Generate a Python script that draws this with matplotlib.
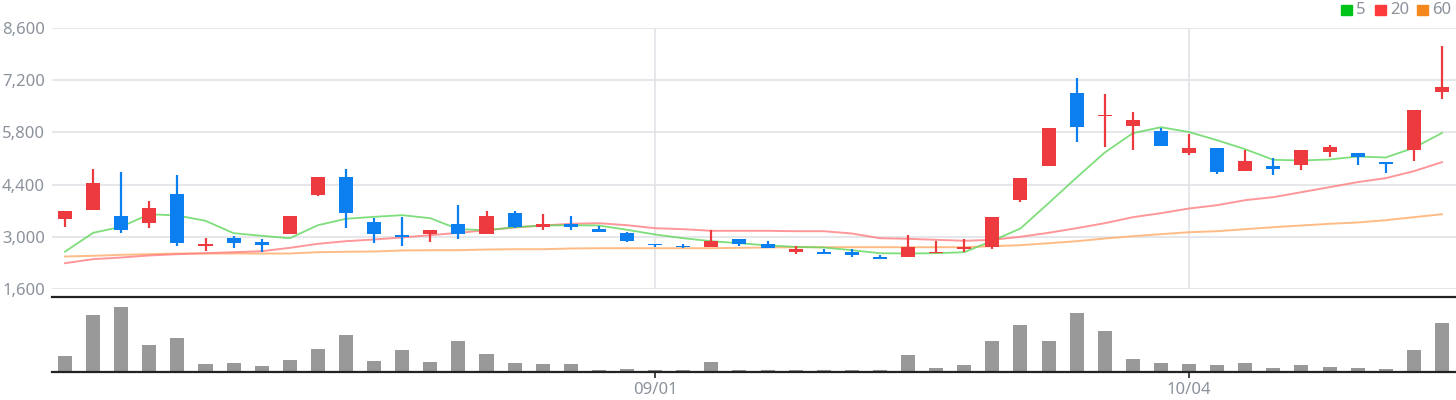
import numpy as np
import matplotlib.pyplot as plt
from matplotlib.patches import Rectangle

plt.rcParams['font.family'] = ['Noto Sans', 'DejaVu Sans']

# daily candles (price)
opens  = [3470, 3715, 3570, 3365, 4160, 2760, 2955, 2865, 3070, 4115,
          4615, 3410, 3060, 3070, 3355, 3070, 3650, 3275, 3330, 3220,
          3090, 2820, 2765, 2720, 2930, 2820, 2590, 2605, 2580, 2470,
          2455, 2555, 2660, 2715, 3975, 4910, 6870, 6235, 5985, 5850,
          5235, 5370, 4760, 4910, 4920, 5270, 5235, 4995, 5320, 6880]
closes = [3705, 4430, 3180, 3785, 2830, 2790, 2830, 2775, 3545, 4615,
          3635, 3070, 2990, 3195, 3070, 3545, 3275, 3355, 3250, 3125,
          2880, 2775, 2715, 2900, 2800, 2695, 2660, 2550, 2500, 2400,
          2715, 2605, 2715, 3520, 4565, 5930, 5940, 6280, 6145, 5430,
          5370, 4735, 5020, 4815, 5340, 5420, 5135, 4950, 6410, 7005]
highs  = [3705, 4805, 4750, 3950, 4645, 2980, 3010, 2930, 3570, 4615,
          4805, 3510, 3520, 3195, 3840, 3680, 3680, 3600, 3570, 3300,
          3125, 2820, 2820, 3170, 2930, 2875, 2765, 2660, 2660, 2525,
          3035, 2875, 2930, 3520, 4565, 5930, 7270, 6840, 6360, 5905,
          5745, 5370, 5315, 5125, 5340, 5475, 5260, 4995, 6410, 8105]
lows   = [3250, 3715, 3110, 3225, 2740, 2615, 2695, 2590, 3070, 4090,
          3230, 2830, 2750, 2855, 2930, 3070, 3240, 3175, 3175, 3125,
          2855, 2720, 2695, 2720, 2765, 2695, 2550, 2550, 2470, 2400,
          2455, 2555, 2605, 2685, 3945, 4910, 5530, 5420, 5340, 5430,
          5190, 4680, 4760, 4655, 4785, 5135, 4920, 4705, 5030, 6690]

ma5  = [2600, 3107, 3268, 3606, 3571, 3429, 3097, 3027, 2962, 3311,
        3483, 3536, 3580, 3499, 3204, 3177, 3257, 3303, 3311, 3303,
        3188, 3062, 2962, 2882, 2828, 2770, 2730, 2713, 2641, 2560,
        2552, 2560, 2587, 2893, 3223, 3901, 4590, 5261, 5779, 5939,
        5810, 5590, 5349, 5065, 5047, 5074, 5154, 5127, 5387, 5784]
ma20 = [2292, 2400, 2445, 2499, 2534, 2560, 2587, 2614, 2704, 2812,
        2882, 2928, 2981, 3043, 3107, 3177, 3249, 3303, 3349, 3365,
        3311, 3231, 3204, 3161, 3161, 3161, 3150, 3150, 3089, 2962,
        2946, 2919, 2893, 2919, 3000, 3107, 3231, 3365, 3526, 3633,
        3759, 3848, 3983, 4063, 4197, 4331, 4466, 4573, 4760, 5002]
ma60 = [2472, 2490, 2517, 2534, 2552, 2552, 2552, 2552, 2552, 2587,
        2598, 2606, 2633, 2641, 2641, 2659, 2667, 2667, 2686, 2694,
        2694, 2694, 2694, 2694, 2704, 2713, 2721, 2721, 2721, 2721,
        2721, 2721, 2721, 2748, 2775, 2828, 2882, 2954, 3016, 3070,
        3123, 3150, 3204, 3258, 3303, 3349, 3384, 3445, 3526, 3606]

volume = [48, 171, 195, 81, 102, 24, 27, 18, 36, 69,
          111, 33, 66, 30, 93, 54, 27, 24, 24, 7,
          9, 7, 7, 30, 5, 5, 5, 5, 5, 5,
          51, 12, 21, 93, 141, 93, 177, 123, 39, 27,
          24, 21, 27, 12, 21, 15, 12, 9, 66, 147]

tick_idx = [21, 40]
tick_labels = ['09/01', '10/04']
price_ticks = [1600, 3000, 4400, 5800, 7200, 8600]

up_col = '#ec3a3e'
down_col = '#0b7ef0'
grid_col = '#e1e3e8'
txt_col = '#8b929c'

W, H = 1456, 400
fig = plt.figure(figsize=(W / 100, H / 100), dpi=100)

x0 = 52 / W
ax = fig.add_axes([x0, 1 - 289 / H, 1 - x0, 261 / H])
axv = fig.add_axes([x0, 1 - 372 / H, 1 - x0, 75 / H])

x = np.arange(len(opens))
xlim = (-0.463, 49.5)

# price panel
ax.set_xlim(*xlim)
ax.set_ylim(1600, 8600)
for s in ax.spines.values():
    s.set_visible(False)
ax.set_yticks(price_ticks)
ax.set_yticklabels([f'{v:,}' for v in price_ticks])
ax.tick_params(axis='y', length=0, pad=5, labelsize=12, labelcolor=txt_col)
ax.set_xticks(tick_idx)
ax.tick_params(axis='x', length=0, labelbottom=False)
ax.grid(True, color=grid_col, linewidth=1.2)
ax.set_axisbelow(True)

ax.plot(x, ma60, color='#ffb070', lw=1.4, alpha=0.85, zorder=2)
ax.plot(x, ma20, color='#ff7d80', lw=1.4, alpha=0.8, zorder=2)
ax.plot(x, ma5, color='#5ed65a', lw=1.3, alpha=0.8, zorder=2)

o = np.array(opens); c = np.array(closes)
cols = [up_col if cc >= oo else down_col for oo, cc in zip(o, c)]
bottoms = np.minimum(o, c)
heights = np.maximum(np.abs(c - o), 45)
ax.vlines(x, lows, highs, colors=cols, linewidth=1.6, zorder=3)
ax.bar(x, heights, bottom=bottoms, width=0.5, color=cols, zorder=4)

# volume panel
axv.set_xlim(*xlim)
axv.set_ylim(0, 225)
axv.bar(x, volume, width=0.5, color='#999999', zorder=2)
for k in ['left', 'right']:
    axv.spines[k].set_visible(False)
for k in ['top', 'bottom']:
    axv.spines[k].set_color('#222222')
    axv.spines[k].set_linewidth(1.6)
axv.set_yticks([])
axv.set_xticks(tick_idx)
axv.set_xticklabels(tick_labels)
axv.tick_params(axis='x', length=4, width=1.2, color='#222222', pad=3,
                labelsize=12, labelcolor=txt_col)

# legend in the top right corner
items = [('5', '#00c41a', 1341), ('20', '#ff3a3a', 1375), ('60', '#f5871f', 1417)]
for lab, col, px in items:
    fig.add_artist(Rectangle((px / W, 1 - 15 / H), 11 / W, 10 / H,
                             transform=fig.transFigure, color=col))
    fig.text((px + 15) / W, 1 - 10 / H, lab, color=txt_col, fontsize=12,
             ha='left', va='center')

plt.savefig('out.png', dpi=100)
